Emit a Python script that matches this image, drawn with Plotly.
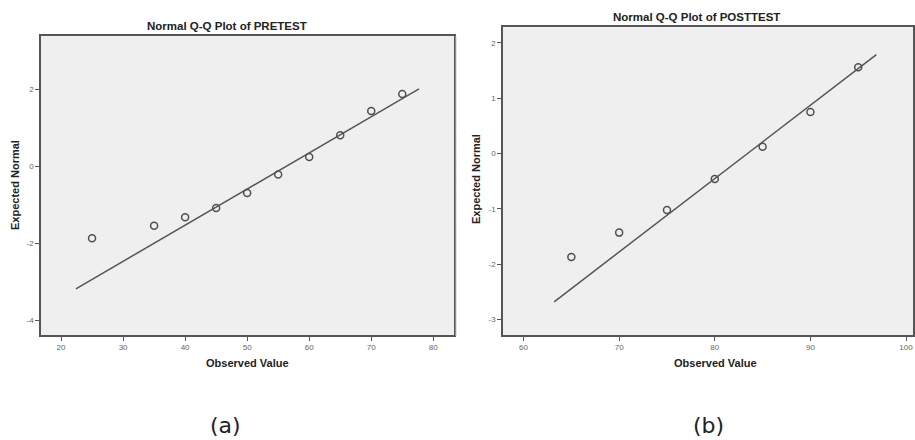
import plotly.graph_objects as go

# ---- data ----
pre_observed = [25, 35, 40, 45, 50, 55, 60, 65, 70, 75]
pre_expected = [-1.87, -1.54, -1.32, -1.08, -0.69, -0.21, 0.24, 0.81, 1.44, 1.88]
pre_line_x = [22.4, 77.7]
pre_line_y = [-3.18, 2.01]

post_observed = [65, 70, 75, 80, 85, 90, 95]
post_expected = [-1.87, -1.43, -1.02, -0.46, 0.12, 0.75, 1.56]
post_line_x = [63.2, 96.9]
post_line_y = [-2.68, 1.785]

pre_xticks = [20, 30, 40, 50, 60, 70, 80]
pre_yticks = [-4, -2, 0, 2]
post_xticks = [60, 70, 80, 90, 100]
post_yticks = [-3, -2, -1, 0, 1, 2]

W, H = 915, 440
LINE = "#555555"
MARK = "#505050"
BG = "#efefef"

fig = go.Figure()

fig.add_trace(go.Scatter(x=pre_line_x, y=pre_line_y, mode="lines",
                         line=dict(color=LINE, width=1.5), xaxis="x", yaxis="y",
                         showlegend=False, hoverinfo="skip"))
fig.add_trace(go.Scatter(x=pre_observed, y=pre_expected, mode="markers",
                         marker=dict(symbol="circle-open", size=7, color=MARK,
                                     line=dict(width=1.5, color=MARK)),
                         xaxis="x", yaxis="y", showlegend=False))
fig.add_trace(go.Scatter(x=post_line_x, y=post_line_y, mode="lines",
                         line=dict(color=LINE, width=1.5), xaxis="x2", yaxis="y2",
                         showlegend=False, hoverinfo="skip"))
fig.add_trace(go.Scatter(x=post_observed, y=post_expected, mode="markers",
                         marker=dict(symbol="circle-open", size=7, color=MARK,
                                     line=dict(width=1.5, color=MARK)),
                         xaxis="x2", yaxis="y2", showlegend=False))

tickfont = dict(family="Arial, Liberation Sans, sans-serif", size=8, color="#666666")
axis_common = dict(showline=True, linecolor=LINE, linewidth=1.5, mirror=True,
                   showgrid=False, zeroline=False, ticks="outside", ticklen=4,
                   tickcolor=LINE, tickwidth=1, tickfont=tickfont, automargin=False)

def tt(vals):
    return [str(v) for v in vals]

fig.update_layout(
    width=W, height=H,
    margin=dict(l=0, r=0, t=0, b=0),
    paper_bgcolor="white",
    plot_bgcolor=BG,
    xaxis=dict(domain=[41 / W, 454 / W], range=[16.77, 83.34], tickvals=pre_xticks,
               ticktext=tt(pre_xticks), anchor="y", **axis_common),
    yaxis=dict(domain=[1 - 335 / H, 1 - 36 / H], range=[-4.38, 3.385], tickvals=pre_yticks,
               ticktext=tt(pre_yticks), anchor="x", **axis_common),
    xaxis2=dict(domain=[503 / W, 913 / W], range=[57.85, 100.73], tickvals=post_xticks,
                ticktext=tt(post_xticks), anchor="y2", **axis_common),
    yaxis2=dict(domain=[1 - 335 / H, 1 - 27.3 / H], range=[-3.28, 2.28], tickvals=post_yticks,
                ticktext=tt(post_yticks), anchor="x2", **axis_common),
)

bold = dict(family="Arial, Liberation Sans, sans-serif", size=11.5, color="#222222")
lab = dict(family="Arial, Liberation Sans, sans-serif", size=11, color="#222222")

def ann(text, x, y, font, angle=0):
    fig.add_annotation(text=text, x=x / W, y=1 - y / H, xref="paper", yref="paper",
                       showarrow=False, font=font, textangle=angle,
                       xanchor="center", yanchor="middle")

ann("<b>Normal Q-Q Plot of PRETEST</b>", 227, 26, bold)
ann("<b>Normal Q-Q Plot of POSTTEST</b>", 696, 17, bold)
ann("<b>Observed Value</b>", 248, 363, lab)
ann("<b>Observed Value</b>", 715, 363, lab)
ann("<b>Expected Normal</b>", 15, 185, lab, -90)
ann("<b>Expected Normal</b>", 476, 179, lab, -90)

cap = dict(family="DejaVu Sans, Verdana, sans-serif", size=22, color="#222222")
ann("(a)", 225, 425, cap)
ann("(b)", 708, 425, cap)

fig.add_shape(type="line", xref="paper", yref="paper",
              x0=456 / W, x1=456 / W, y0=1 - 336 / H, y1=1 - 36 / H,
              line=dict(color="#cccccc", width=1))

fig.write_html("out.html", config={"displayModeBar": False},
               post_script="document.body.style.margin='0';document.body.style.overflow='hidden';")
